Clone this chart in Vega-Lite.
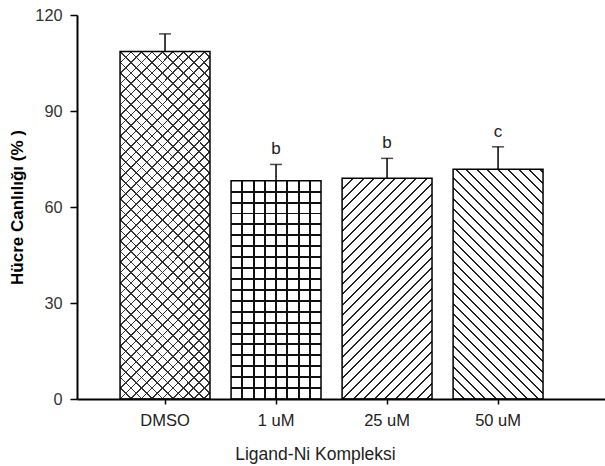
{
  "$schema": "https://vega.github.io/schema/vega-lite/v6.json",
  "autosize": "none",
  "width": 528,
  "height": 384,
  "padding": {"left": 77, "top": 15, "right": 0, "bottom": 67},
  "config": {"view": {"stroke": null}, "font": "Liberation Sans"},
  "data": {"values": [
    {"cond": "DMSO", "mean": 108.6, "upper": 114.1, "letter": ""},
    {"cond": "1 uM", "mean": 68.2, "upper": 73.3, "letter": "b"},
    {"cond": "25 uM", "mean": 69.0, "upper": 75.2, "letter": "b"},
    {"cond": "50 uM", "mean": 71.8, "upper": 78.8, "letter": "c"}
  ]},
  "encoding": {
    "x": {"field": "cond", "type": "nominal",
      "scale": {"domain": ["DMSO", "1 uM", "25 uM", "50 uM"], "paddingInner": 0.19, "paddingOuter": 0.473, "align": 0.41},
      "axis": {"title": "Ligand-Ni Kompleksi", "titleFontSize": 17.5, "titleFontWeight": "normal", "titleColor": "#222", "titleX": 238, "titleY": 60, "titleAlign": "center", "titleBaseline": "alphabetic", "labelFontSize": 16.5, "labelColor": "#222", "labelAngle": 0, "labelPadding": 8, "tickSize": 5, "tickWidth": 1.5, "tickColor": "#000", "domainColor": "#000", "domainWidth": 2, "grid": false}},
    "y": {"field": "mean", "type": "quantitative", "title": "Hücre Canlılığı (% )",
      "scale": {"domain": [0, 120]},
      "axis": {"titleFontWeight": "bold", "titleFontSize": 17, "titleColor": "#000", "titleAngle": 270, "titleX": -60, "titleY": 192, "titleAlign": "center", "titleBaseline": "middle", "values": [0, 30, 60, 90, 120], "labelFontSize": 16.3, "labelColor": "#333", "labelPadding": 8, "tickSize": 7, "tickWidth": 1.5, "tickColor": "#000", "domainColor": "#000", "domainWidth": 2, "grid": false}}
  },
  "layer": [
    {"transform": [{"filter": "datum.cond == 'DMSO'"}],
     "mark": {"type": "bar", "strokeWidth": 0, "fill": {"gradient": "linear", "x1": 0, "y1": 0, "x2": 0.3667, "y2": 1.4158, "stops": [
{"offset":0.02,"color":"transparent"},{"offset":0.02,"color":"#333"},{"offset":0.023,"color":"#333"},{"offset":0.023,"color":"transparent"},
{"offset":0.04,"color":"transparent"},{"offset":0.04,"color":"#333"},{"offset":0.043,"color":"#333"},{"offset":0.043,"color":"transparent"},
{"offset":0.06,"color":"transparent"},{"offset":0.06,"color":"#333"},{"offset":0.063,"color":"#333"},{"offset":0.063,"color":"transparent"},
{"offset":0.08,"color":"transparent"},{"offset":0.08,"color":"#333"},{"offset":0.083,"color":"#333"},{"offset":0.083,"color":"transparent"},
{"offset":0.1,"color":"transparent"},{"offset":0.1,"color":"#333"},{"offset":0.103,"color":"#333"},{"offset":0.103,"color":"transparent"},
{"offset":0.12,"color":"transparent"},{"offset":0.12,"color":"#333"},{"offset":0.123,"color":"#333"},{"offset":0.123,"color":"transparent"},
{"offset":0.14,"color":"transparent"},{"offset":0.14,"color":"#333"},{"offset":0.143,"color":"#333"},{"offset":0.143,"color":"transparent"},
{"offset":0.16,"color":"transparent"},{"offset":0.16,"color":"#333"},{"offset":0.163,"color":"#333"},{"offset":0.163,"color":"transparent"},
{"offset":0.18,"color":"transparent"},{"offset":0.18,"color":"#333"},{"offset":0.183,"color":"#333"},{"offset":0.183,"color":"transparent"},
{"offset":0.2,"color":"transparent"},{"offset":0.2,"color":"#333"},{"offset":0.203,"color":"#333"},{"offset":0.203,"color":"transparent"},
{"offset":0.22,"color":"transparent"},{"offset":0.22,"color":"#333"},{"offset":0.223,"color":"#333"},{"offset":0.223,"color":"transparent"},
{"offset":0.24,"color":"transparent"},{"offset":0.24,"color":"#333"},{"offset":0.243,"color":"#333"},{"offset":0.243,"color":"transparent"},
{"offset":0.26,"color":"transparent"},{"offset":0.26,"color":"#333"},{"offset":0.263,"color":"#333"},{"offset":0.263,"color":"transparent"},
{"offset":0.28,"color":"transparent"},{"offset":0.28,"color":"#333"},{"offset":0.283,"color":"#333"},{"offset":0.283,"color":"transparent"},
{"offset":0.3,"color":"transparent"},{"offset":0.3,"color":"#333"},{"offset":0.303,"color":"#333"},{"offset":0.303,"color":"transparent"},
{"offset":0.32,"color":"transparent"},{"offset":0.32,"color":"#333"},{"offset":0.323,"color":"#333"},{"offset":0.323,"color":"transparent"},
{"offset":0.34,"color":"transparent"},{"offset":0.34,"color":"#333"},{"offset":0.343,"color":"#333"},{"offset":0.343,"color":"transparent"},
{"offset":0.36,"color":"transparent"},{"offset":0.36,"color":"#333"},{"offset":0.363,"color":"#333"},{"offset":0.363,"color":"transparent"},
{"offset":0.38,"color":"transparent"},{"offset":0.38,"color":"#333"},{"offset":0.383,"color":"#333"},{"offset":0.383,"color":"transparent"},
{"offset":0.4,"color":"transparent"},{"offset":0.4,"color":"#333"},{"offset":0.403,"color":"#333"},{"offset":0.403,"color":"transparent"},
{"offset":0.42,"color":"transparent"},{"offset":0.42,"color":"#333"},{"offset":0.423,"color":"#333"},{"offset":0.423,"color":"transparent"},
{"offset":0.44,"color":"transparent"},{"offset":0.44,"color":"#333"},{"offset":0.443,"color":"#333"},{"offset":0.443,"color":"transparent"},
{"offset":0.46,"color":"transparent"},{"offset":0.46,"color":"#333"},{"offset":0.463,"color":"#333"},{"offset":0.463,"color":"transparent"},
{"offset":0.48,"color":"transparent"},{"offset":0.48,"color":"#333"},{"offset":0.483,"color":"#333"},{"offset":0.483,"color":"transparent"},
{"offset":0.5,"color":"transparent"},{"offset":0.5,"color":"#333"},{"offset":0.503,"color":"#333"},{"offset":0.503,"color":"transparent"},
{"offset":0.52,"color":"transparent"},{"offset":0.52,"color":"#333"},{"offset":0.523,"color":"#333"},{"offset":0.523,"color":"transparent"},
{"offset":0.54,"color":"transparent"},{"offset":0.54,"color":"#333"},{"offset":0.543,"color":"#333"},{"offset":0.543,"color":"transparent"},
{"offset":0.56,"color":"transparent"},{"offset":0.56,"color":"#333"},{"offset":0.563,"color":"#333"},{"offset":0.563,"color":"transparent"},
{"offset":0.58,"color":"transparent"},{"offset":0.58,"color":"#333"},{"offset":0.583,"color":"#333"},{"offset":0.583,"color":"transparent"},
{"offset":0.6,"color":"transparent"},{"offset":0.6,"color":"#333"},{"offset":0.603,"color":"#333"},{"offset":0.603,"color":"transparent"},
{"offset":0.62,"color":"transparent"},{"offset":0.62,"color":"#333"},{"offset":0.623,"color":"#333"},{"offset":0.623,"color":"transparent"},
{"offset":0.64,"color":"transparent"},{"offset":0.64,"color":"#333"},{"offset":0.643,"color":"#333"},{"offset":0.643,"color":"transparent"},
{"offset":0.66,"color":"transparent"},{"offset":0.66,"color":"#333"},{"offset":0.663,"color":"#333"},{"offset":0.663,"color":"transparent"},
{"offset":0.68,"color":"transparent"},{"offset":0.68,"color":"#333"},{"offset":0.683,"color":"#333"},{"offset":0.683,"color":"transparent"},
{"offset":0.7,"color":"transparent"},{"offset":0.7,"color":"#333"},{"offset":0.703,"color":"#333"},{"offset":0.703,"color":"transparent"},
{"offset":0.72,"color":"transparent"},{"offset":0.72,"color":"#333"},{"offset":0.723,"color":"#333"},{"offset":0.723,"color":"transparent"},
{"offset":0.74,"color":"transparent"},{"offset":0.74,"color":"#333"},{"offset":0.743,"color":"#333"},{"offset":0.743,"color":"transparent"},
{"offset":0.76,"color":"transparent"},{"offset":0.76,"color":"#333"},{"offset":0.763,"color":"#333"},{"offset":0.763,"color":"transparent"},
{"offset":0.78,"color":"transparent"},{"offset":0.78,"color":"#333"},{"offset":0.783,"color":"#333"},{"offset":0.783,"color":"transparent"},
{"offset":0.8,"color":"transparent"},{"offset":0.8,"color":"#333"},{"offset":0.803,"color":"#333"},{"offset":0.803,"color":"transparent"},
{"offset":0.82,"color":"transparent"},{"offset":0.82,"color":"#333"},{"offset":0.823,"color":"#333"},{"offset":0.823,"color":"transparent"}
     ]}}},
    {"transform": [{"filter": "datum.cond == 'DMSO'"}],
     "mark": {"type": "bar", "strokeWidth": 0, "fill": {"gradient": "linear", "x1": 0, "y1": 1, "x2": 0.3667, "y2": -0.4158, "stops": [
{"offset":0.02,"color":"transparent"},{"offset":0.02,"color":"#333"},{"offset":0.023,"color":"#333"},{"offset":0.023,"color":"transparent"},
{"offset":0.04,"color":"transparent"},{"offset":0.04,"color":"#333"},{"offset":0.043,"color":"#333"},{"offset":0.043,"color":"transparent"},
{"offset":0.06,"color":"transparent"},{"offset":0.06,"color":"#333"},{"offset":0.063,"color":"#333"},{"offset":0.063,"color":"transparent"},
{"offset":0.08,"color":"transparent"},{"offset":0.08,"color":"#333"},{"offset":0.083,"color":"#333"},{"offset":0.083,"color":"transparent"},
{"offset":0.1,"color":"transparent"},{"offset":0.1,"color":"#333"},{"offset":0.103,"color":"#333"},{"offset":0.103,"color":"transparent"},
{"offset":0.12,"color":"transparent"},{"offset":0.12,"color":"#333"},{"offset":0.123,"color":"#333"},{"offset":0.123,"color":"transparent"},
{"offset":0.14,"color":"transparent"},{"offset":0.14,"color":"#333"},{"offset":0.143,"color":"#333"},{"offset":0.143,"color":"transparent"},
{"offset":0.16,"color":"transparent"},{"offset":0.16,"color":"#333"},{"offset":0.163,"color":"#333"},{"offset":0.163,"color":"transparent"},
{"offset":0.18,"color":"transparent"},{"offset":0.18,"color":"#333"},{"offset":0.183,"color":"#333"},{"offset":0.183,"color":"transparent"},
{"offset":0.2,"color":"transparent"},{"offset":0.2,"color":"#333"},{"offset":0.203,"color":"#333"},{"offset":0.203,"color":"transparent"},
{"offset":0.22,"color":"transparent"},{"offset":0.22,"color":"#333"},{"offset":0.223,"color":"#333"},{"offset":0.223,"color":"transparent"},
{"offset":0.24,"color":"transparent"},{"offset":0.24,"color":"#333"},{"offset":0.243,"color":"#333"},{"offset":0.243,"color":"transparent"},
{"offset":0.26,"color":"transparent"},{"offset":0.26,"color":"#333"},{"offset":0.263,"color":"#333"},{"offset":0.263,"color":"transparent"},
{"offset":0.28,"color":"transparent"},{"offset":0.28,"color":"#333"},{"offset":0.283,"color":"#333"},{"offset":0.283,"color":"transparent"},
{"offset":0.3,"color":"transparent"},{"offset":0.3,"color":"#333"},{"offset":0.303,"color":"#333"},{"offset":0.303,"color":"transparent"},
{"offset":0.32,"color":"transparent"},{"offset":0.32,"color":"#333"},{"offset":0.323,"color":"#333"},{"offset":0.323,"color":"transparent"},
{"offset":0.34,"color":"transparent"},{"offset":0.34,"color":"#333"},{"offset":0.343,"color":"#333"},{"offset":0.343,"color":"transparent"},
{"offset":0.36,"color":"transparent"},{"offset":0.36,"color":"#333"},{"offset":0.363,"color":"#333"},{"offset":0.363,"color":"transparent"},
{"offset":0.38,"color":"transparent"},{"offset":0.38,"color":"#333"},{"offset":0.383,"color":"#333"},{"offset":0.383,"color":"transparent"},
{"offset":0.4,"color":"transparent"},{"offset":0.4,"color":"#333"},{"offset":0.403,"color":"#333"},{"offset":0.403,"color":"transparent"},
{"offset":0.42,"color":"transparent"},{"offset":0.42,"color":"#333"},{"offset":0.423,"color":"#333"},{"offset":0.423,"color":"transparent"},
{"offset":0.44,"color":"transparent"},{"offset":0.44,"color":"#333"},{"offset":0.443,"color":"#333"},{"offset":0.443,"color":"transparent"},
{"offset":0.46,"color":"transparent"},{"offset":0.46,"color":"#333"},{"offset":0.463,"color":"#333"},{"offset":0.463,"color":"transparent"},
{"offset":0.48,"color":"transparent"},{"offset":0.48,"color":"#333"},{"offset":0.483,"color":"#333"},{"offset":0.483,"color":"transparent"},
{"offset":0.5,"color":"transparent"},{"offset":0.5,"color":"#333"},{"offset":0.503,"color":"#333"},{"offset":0.503,"color":"transparent"},
{"offset":0.52,"color":"transparent"},{"offset":0.52,"color":"#333"},{"offset":0.523,"color":"#333"},{"offset":0.523,"color":"transparent"},
{"offset":0.54,"color":"transparent"},{"offset":0.54,"color":"#333"},{"offset":0.543,"color":"#333"},{"offset":0.543,"color":"transparent"},
{"offset":0.56,"color":"transparent"},{"offset":0.56,"color":"#333"},{"offset":0.563,"color":"#333"},{"offset":0.563,"color":"transparent"},
{"offset":0.58,"color":"transparent"},{"offset":0.58,"color":"#333"},{"offset":0.583,"color":"#333"},{"offset":0.583,"color":"transparent"},
{"offset":0.6,"color":"transparent"},{"offset":0.6,"color":"#333"},{"offset":0.603,"color":"#333"},{"offset":0.603,"color":"transparent"},
{"offset":0.62,"color":"transparent"},{"offset":0.62,"color":"#333"},{"offset":0.623,"color":"#333"},{"offset":0.623,"color":"transparent"},
{"offset":0.64,"color":"transparent"},{"offset":0.64,"color":"#333"},{"offset":0.643,"color":"#333"},{"offset":0.643,"color":"transparent"},
{"offset":0.66,"color":"transparent"},{"offset":0.66,"color":"#333"},{"offset":0.663,"color":"#333"},{"offset":0.663,"color":"transparent"},
{"offset":0.68,"color":"transparent"},{"offset":0.68,"color":"#333"},{"offset":0.683,"color":"#333"},{"offset":0.683,"color":"transparent"},
{"offset":0.7,"color":"transparent"},{"offset":0.7,"color":"#333"},{"offset":0.703,"color":"#333"},{"offset":0.703,"color":"transparent"},
{"offset":0.72,"color":"transparent"},{"offset":0.72,"color":"#333"},{"offset":0.723,"color":"#333"},{"offset":0.723,"color":"transparent"},
{"offset":0.74,"color":"transparent"},{"offset":0.74,"color":"#333"},{"offset":0.743,"color":"#333"},{"offset":0.743,"color":"transparent"},
{"offset":0.76,"color":"transparent"},{"offset":0.76,"color":"#333"},{"offset":0.763,"color":"#333"},{"offset":0.763,"color":"transparent"},
{"offset":0.78,"color":"transparent"},{"offset":0.78,"color":"#333"},{"offset":0.783,"color":"#333"},{"offset":0.783,"color":"transparent"},
{"offset":0.8,"color":"transparent"},{"offset":0.8,"color":"#333"},{"offset":0.803,"color":"#333"},{"offset":0.803,"color":"transparent"},
{"offset":0.82,"color":"transparent"},{"offset":0.82,"color":"#333"},{"offset":0.823,"color":"#333"},{"offset":0.823,"color":"transparent"}
     ]}}},
    {"transform": [{"filter": "datum.cond == '1 uM'"}],
     "mark": {"type": "bar", "strokeWidth": 0, "fill": {"gradient": "linear", "x1": 0, "y1": 0, "x2": 1, "y2": 0, "stops": [
{"offset":0.114,"color":"transparent"},{"offset":0.114,"color":"#111"},{"offset":0.136,"color":"#111"},{"offset":0.136,"color":"transparent"},
{"offset":0.239,"color":"transparent"},{"offset":0.239,"color":"#111"},{"offset":0.261,"color":"#111"},{"offset":0.261,"color":"transparent"},
{"offset":0.364,"color":"transparent"},{"offset":0.364,"color":"#111"},{"offset":0.386,"color":"#111"},{"offset":0.386,"color":"transparent"},
{"offset":0.489,"color":"transparent"},{"offset":0.489,"color":"#111"},{"offset":0.511,"color":"#111"},{"offset":0.511,"color":"transparent"},
{"offset":0.614,"color":"transparent"},{"offset":0.614,"color":"#111"},{"offset":0.636,"color":"#111"},{"offset":0.636,"color":"transparent"},
{"offset":0.739,"color":"transparent"},{"offset":0.739,"color":"#111"},{"offset":0.761,"color":"#111"},{"offset":0.761,"color":"transparent"},
{"offset":0.864,"color":"transparent"},{"offset":0.864,"color":"#111"},{"offset":0.886,"color":"#111"},{"offset":0.886,"color":"transparent"}
     ]}}},
    {"transform": [{"filter": "datum.cond == '1 uM'"}],
     "mark": {"type": "bar", "strokeWidth": 0, "fill": {"gradient": "linear", "x1": 0, "y1": 0, "x2": 0, "y2": 1, "stops": [
{"offset":0.0455,"color":"transparent"},{"offset":0.0455,"color":"#111"},{"offset":0.0545,"color":"#111"},{"offset":0.0545,"color":"transparent"},
{"offset":0.0955,"color":"transparent"},{"offset":0.0955,"color":"#111"},{"offset":0.1045,"color":"#111"},{"offset":0.1045,"color":"transparent"},
{"offset":0.1455,"color":"transparent"},{"offset":0.1455,"color":"#111"},{"offset":0.1545,"color":"#111"},{"offset":0.1545,"color":"transparent"},
{"offset":0.1955,"color":"transparent"},{"offset":0.1955,"color":"#111"},{"offset":0.2045,"color":"#111"},{"offset":0.2045,"color":"transparent"},
{"offset":0.2455,"color":"transparent"},{"offset":0.2455,"color":"#111"},{"offset":0.2545,"color":"#111"},{"offset":0.2545,"color":"transparent"},
{"offset":0.2955,"color":"transparent"},{"offset":0.2955,"color":"#111"},{"offset":0.3045,"color":"#111"},{"offset":0.3045,"color":"transparent"},
{"offset":0.3455,"color":"transparent"},{"offset":0.3455,"color":"#111"},{"offset":0.3545,"color":"#111"},{"offset":0.3545,"color":"transparent"},
{"offset":0.3955,"color":"transparent"},{"offset":0.3955,"color":"#111"},{"offset":0.4045,"color":"#111"},{"offset":0.4045,"color":"transparent"},
{"offset":0.4455,"color":"transparent"},{"offset":0.4455,"color":"#111"},{"offset":0.4545,"color":"#111"},{"offset":0.4545,"color":"transparent"},
{"offset":0.4955,"color":"transparent"},{"offset":0.4955,"color":"#111"},{"offset":0.5045,"color":"#111"},{"offset":0.5045,"color":"transparent"},
{"offset":0.5455,"color":"transparent"},{"offset":0.5455,"color":"#111"},{"offset":0.5545,"color":"#111"},{"offset":0.5545,"color":"transparent"},
{"offset":0.5955,"color":"transparent"},{"offset":0.5955,"color":"#111"},{"offset":0.6045,"color":"#111"},{"offset":0.6045,"color":"transparent"},
{"offset":0.6455,"color":"transparent"},{"offset":0.6455,"color":"#111"},{"offset":0.6545,"color":"#111"},{"offset":0.6545,"color":"transparent"},
{"offset":0.6955,"color":"transparent"},{"offset":0.6955,"color":"#111"},{"offset":0.7045,"color":"#111"},{"offset":0.7045,"color":"transparent"},
{"offset":0.7455,"color":"transparent"},{"offset":0.7455,"color":"#111"},{"offset":0.7545,"color":"#111"},{"offset":0.7545,"color":"transparent"},
{"offset":0.7955,"color":"transparent"},{"offset":0.7955,"color":"#111"},{"offset":0.8045,"color":"#111"},{"offset":0.8045,"color":"transparent"},
{"offset":0.8455,"color":"transparent"},{"offset":0.8455,"color":"#111"},{"offset":0.8545,"color":"#111"},{"offset":0.8545,"color":"transparent"},
{"offset":0.8955,"color":"transparent"},{"offset":0.8955,"color":"#111"},{"offset":0.9045,"color":"#111"},{"offset":0.9045,"color":"transparent"},
{"offset":0.9455,"color":"transparent"},{"offset":0.9455,"color":"#111"},{"offset":0.9545,"color":"#111"},{"offset":0.9545,"color":"transparent"}
     ]}}},
    {"transform": [{"filter": "datum.cond == '25 uM'"}],
     "mark": {"type": "bar", "strokeWidth": 0, "fill": {"gradient": "linear", "x1": 0, "y1": 0, "x2": 0.8311, "y2": 2.0389, "stops": [
{"offset":0.02,"color":"transparent"},{"offset":0.02,"color":"#222"},{"offset":0.024,"color":"#222"},{"offset":0.024,"color":"transparent"},
{"offset":0.04,"color":"transparent"},{"offset":0.04,"color":"#222"},{"offset":0.044,"color":"#222"},{"offset":0.044,"color":"transparent"},
{"offset":0.06,"color":"transparent"},{"offset":0.06,"color":"#222"},{"offset":0.064,"color":"#222"},{"offset":0.064,"color":"transparent"},
{"offset":0.08,"color":"transparent"},{"offset":0.08,"color":"#222"},{"offset":0.084,"color":"#222"},{"offset":0.084,"color":"transparent"},
{"offset":0.1,"color":"transparent"},{"offset":0.1,"color":"#222"},{"offset":0.104,"color":"#222"},{"offset":0.104,"color":"transparent"},
{"offset":0.12,"color":"transparent"},{"offset":0.12,"color":"#222"},{"offset":0.124,"color":"#222"},{"offset":0.124,"color":"transparent"},
{"offset":0.14,"color":"transparent"},{"offset":0.14,"color":"#222"},{"offset":0.144,"color":"#222"},{"offset":0.144,"color":"transparent"},
{"offset":0.16,"color":"transparent"},{"offset":0.16,"color":"#222"},{"offset":0.164,"color":"#222"},{"offset":0.164,"color":"transparent"},
{"offset":0.18,"color":"transparent"},{"offset":0.18,"color":"#222"},{"offset":0.184,"color":"#222"},{"offset":0.184,"color":"transparent"},
{"offset":0.2,"color":"transparent"},{"offset":0.2,"color":"#222"},{"offset":0.204,"color":"#222"},{"offset":0.204,"color":"transparent"},
{"offset":0.22,"color":"transparent"},{"offset":0.22,"color":"#222"},{"offset":0.224,"color":"#222"},{"offset":0.224,"color":"transparent"},
{"offset":0.24,"color":"transparent"},{"offset":0.24,"color":"#222"},{"offset":0.244,"color":"#222"},{"offset":0.244,"color":"transparent"},
{"offset":0.26,"color":"transparent"},{"offset":0.26,"color":"#222"},{"offset":0.264,"color":"#222"},{"offset":0.264,"color":"transparent"},
{"offset":0.28,"color":"transparent"},{"offset":0.28,"color":"#222"},{"offset":0.284,"color":"#222"},{"offset":0.284,"color":"transparent"},
{"offset":0.3,"color":"transparent"},{"offset":0.3,"color":"#222"},{"offset":0.304,"color":"#222"},{"offset":0.304,"color":"transparent"},
{"offset":0.32,"color":"transparent"},{"offset":0.32,"color":"#222"},{"offset":0.324,"color":"#222"},{"offset":0.324,"color":"transparent"},
{"offset":0.34,"color":"transparent"},{"offset":0.34,"color":"#222"},{"offset":0.344,"color":"#222"},{"offset":0.344,"color":"transparent"},
{"offset":0.36,"color":"transparent"},{"offset":0.36,"color":"#222"},{"offset":0.364,"color":"#222"},{"offset":0.364,"color":"transparent"},
{"offset":0.38,"color":"transparent"},{"offset":0.38,"color":"#222"},{"offset":0.384,"color":"#222"},{"offset":0.384,"color":"transparent"},
{"offset":0.4,"color":"transparent"},{"offset":0.4,"color":"#222"},{"offset":0.404,"color":"#222"},{"offset":0.404,"color":"transparent"},
{"offset":0.42,"color":"transparent"},{"offset":0.42,"color":"#222"},{"offset":0.424,"color":"#222"},{"offset":0.424,"color":"transparent"},
{"offset":0.44,"color":"transparent"},{"offset":0.44,"color":"#222"},{"offset":0.444,"color":"#222"},{"offset":0.444,"color":"transparent"},
{"offset":0.46,"color":"transparent"},{"offset":0.46,"color":"#222"},{"offset":0.464,"color":"#222"},{"offset":0.464,"color":"transparent"},
{"offset":0.48,"color":"transparent"},{"offset":0.48,"color":"#222"},{"offset":0.484,"color":"#222"},{"offset":0.484,"color":"transparent"},
{"offset":0.5,"color":"transparent"},{"offset":0.5,"color":"#222"},{"offset":0.504,"color":"#222"},{"offset":0.504,"color":"transparent"},
{"offset":0.52,"color":"transparent"},{"offset":0.52,"color":"#222"},{"offset":0.524,"color":"#222"},{"offset":0.524,"color":"transparent"},
{"offset":0.54,"color":"transparent"},{"offset":0.54,"color":"#222"},{"offset":0.544,"color":"#222"},{"offset":0.544,"color":"transparent"},
{"offset":0.56,"color":"transparent"},{"offset":0.56,"color":"#222"},{"offset":0.564,"color":"#222"},{"offset":0.564,"color":"transparent"},
{"offset":0.58,"color":"transparent"},{"offset":0.58,"color":"#222"},{"offset":0.584,"color":"#222"},{"offset":0.584,"color":"transparent"},
{"offset":0.6,"color":"transparent"},{"offset":0.6,"color":"#222"},{"offset":0.604,"color":"#222"},{"offset":0.604,"color":"transparent"}
     ]}}},
    {"transform": [{"filter": "datum.cond == '50 uM'"}],
     "mark": {"type": "bar", "strokeWidth": 0, "fill": {"gradient": "linear", "x1": 0, "y1": 1, "x2": 0.776, "y2": -0.981, "stops": [
{"offset":0.02,"color":"transparent"},{"offset":0.02,"color":"#222"},{"offset":0.024,"color":"#222"},{"offset":0.024,"color":"transparent"},
{"offset":0.04,"color":"transparent"},{"offset":0.04,"color":"#222"},{"offset":0.044,"color":"#222"},{"offset":0.044,"color":"transparent"},
{"offset":0.06,"color":"transparent"},{"offset":0.06,"color":"#222"},{"offset":0.064,"color":"#222"},{"offset":0.064,"color":"transparent"},
{"offset":0.08,"color":"transparent"},{"offset":0.08,"color":"#222"},{"offset":0.084,"color":"#222"},{"offset":0.084,"color":"transparent"},
{"offset":0.1,"color":"transparent"},{"offset":0.1,"color":"#222"},{"offset":0.104,"color":"#222"},{"offset":0.104,"color":"transparent"},
{"offset":0.12,"color":"transparent"},{"offset":0.12,"color":"#222"},{"offset":0.124,"color":"#222"},{"offset":0.124,"color":"transparent"},
{"offset":0.14,"color":"transparent"},{"offset":0.14,"color":"#222"},{"offset":0.144,"color":"#222"},{"offset":0.144,"color":"transparent"},
{"offset":0.16,"color":"transparent"},{"offset":0.16,"color":"#222"},{"offset":0.164,"color":"#222"},{"offset":0.164,"color":"transparent"},
{"offset":0.18,"color":"transparent"},{"offset":0.18,"color":"#222"},{"offset":0.184,"color":"#222"},{"offset":0.184,"color":"transparent"},
{"offset":0.2,"color":"transparent"},{"offset":0.2,"color":"#222"},{"offset":0.204,"color":"#222"},{"offset":0.204,"color":"transparent"},
{"offset":0.22,"color":"transparent"},{"offset":0.22,"color":"#222"},{"offset":0.224,"color":"#222"},{"offset":0.224,"color":"transparent"},
{"offset":0.24,"color":"transparent"},{"offset":0.24,"color":"#222"},{"offset":0.244,"color":"#222"},{"offset":0.244,"color":"transparent"},
{"offset":0.26,"color":"transparent"},{"offset":0.26,"color":"#222"},{"offset":0.264,"color":"#222"},{"offset":0.264,"color":"transparent"},
{"offset":0.28,"color":"transparent"},{"offset":0.28,"color":"#222"},{"offset":0.284,"color":"#222"},{"offset":0.284,"color":"transparent"},
{"offset":0.3,"color":"transparent"},{"offset":0.3,"color":"#222"},{"offset":0.304,"color":"#222"},{"offset":0.304,"color":"transparent"},
{"offset":0.32,"color":"transparent"},{"offset":0.32,"color":"#222"},{"offset":0.324,"color":"#222"},{"offset":0.324,"color":"transparent"},
{"offset":0.34,"color":"transparent"},{"offset":0.34,"color":"#222"},{"offset":0.344,"color":"#222"},{"offset":0.344,"color":"transparent"},
{"offset":0.36,"color":"transparent"},{"offset":0.36,"color":"#222"},{"offset":0.364,"color":"#222"},{"offset":0.364,"color":"transparent"},
{"offset":0.38,"color":"transparent"},{"offset":0.38,"color":"#222"},{"offset":0.384,"color":"#222"},{"offset":0.384,"color":"transparent"},
{"offset":0.4,"color":"transparent"},{"offset":0.4,"color":"#222"},{"offset":0.404,"color":"#222"},{"offset":0.404,"color":"transparent"},
{"offset":0.42,"color":"transparent"},{"offset":0.42,"color":"#222"},{"offset":0.424,"color":"#222"},{"offset":0.424,"color":"transparent"},
{"offset":0.44,"color":"transparent"},{"offset":0.44,"color":"#222"},{"offset":0.444,"color":"#222"},{"offset":0.444,"color":"transparent"},
{"offset":0.46,"color":"transparent"},{"offset":0.46,"color":"#222"},{"offset":0.464,"color":"#222"},{"offset":0.464,"color":"transparent"},
{"offset":0.48,"color":"transparent"},{"offset":0.48,"color":"#222"},{"offset":0.484,"color":"#222"},{"offset":0.484,"color":"transparent"},
{"offset":0.5,"color":"transparent"},{"offset":0.5,"color":"#222"},{"offset":0.504,"color":"#222"},{"offset":0.504,"color":"transparent"},
{"offset":0.52,"color":"transparent"},{"offset":0.52,"color":"#222"},{"offset":0.524,"color":"#222"},{"offset":0.524,"color":"transparent"},
{"offset":0.54,"color":"transparent"},{"offset":0.54,"color":"#222"},{"offset":0.544,"color":"#222"},{"offset":0.544,"color":"transparent"},
{"offset":0.56,"color":"transparent"},{"offset":0.56,"color":"#222"},{"offset":0.564,"color":"#222"},{"offset":0.564,"color":"transparent"},
{"offset":0.58,"color":"transparent"},{"offset":0.58,"color":"#222"},{"offset":0.584,"color":"#222"},{"offset":0.584,"color":"transparent"},
{"offset":0.6,"color":"transparent"},{"offset":0.6,"color":"#222"},{"offset":0.604,"color":"#222"},{"offset":0.604,"color":"transparent"}
     ]}}},
    {"mark": {"type": "bar", "fill": "transparent", "stroke": "#000", "strokeWidth": 1.5}},
    {"mark": {"type": "rule", "color": "#000", "strokeWidth": 1.5},
     "encoding": {"y2": {"field": "upper"}}},
    {"mark": {"type": "tick", "color": "#000", "thickness": 1.5, "size": 12},
     "encoding": {"y": {"field": "upper", "type": "quantitative", "title": "Hücre Canlılığı (% )"}}},
    {"mark": {"type": "text", "fontSize": 17, "color": "#222", "baseline": "alphabetic", "dy": -10},
     "encoding": {"y": {"field": "upper", "type": "quantitative", "title": "Hücre Canlılığı (% )"}, "text": {"field": "letter"}}}
  ]
}
